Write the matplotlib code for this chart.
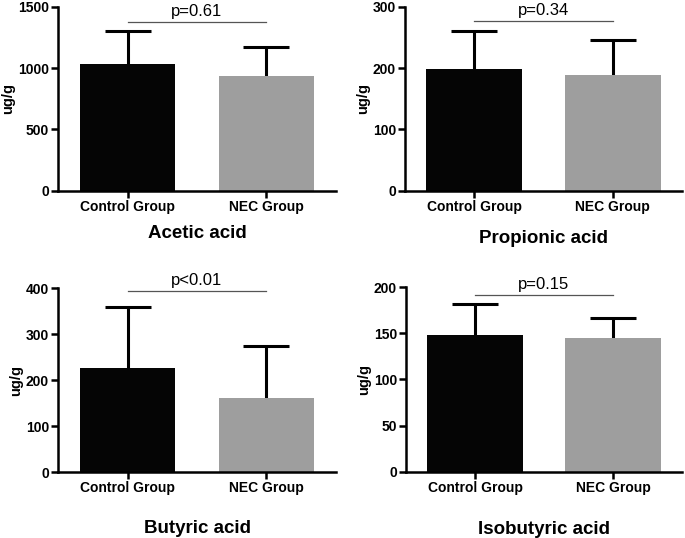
import matplotlib
matplotlib.use("Agg")
import matplotlib.pyplot as plt

plt.rcParams["font.family"] = ["Liberation Sans", "DejaVu Sans"]

groups = ["Control Group", "NEC Group"]

# means and SD (ug/g)
acetic_mean = [1030, 935]
acetic_sd = [272, 234]
propionic_mean = [198, 189]
propionic_sd = [63, 57]
butyric_mean = [227, 161]
butyric_sd = [132, 114]
isobutyric_mean = [148.5, 145]
isobutyric_sd = [33.5, 22]

panels = [
    ("Acetic acid", acetic_mean, acetic_sd, 1500, 500, "p=0.61", 1375),
    ("Propionic acid", propionic_mean, propionic_sd, 300, 100, "p=0.34", 277),
    ("Butyric acid", butyric_mean, butyric_sd, 400, 100, "p<0.01", 395),
    ("Isobutyric acid", isobutyric_mean, isobutyric_sd, 200, 50, "p=0.15", 191.5),
]

# axes rectangles in figure fraction
rects = [
    [0.0847, 0.6455, 0.4058, 0.342],
    [0.5912, 0.6455, 0.4044, 0.342],
    [0.0847, 0.1221, 0.4058, 0.342],
    [0.5927, 0.1232, 0.4029, 0.343],
]
title_pads = [8, 11.5, 17.5, 18.7]

fig = plt.figure(figsize=(6.85, 5.38), dpi=100)
colors = ["#050505", "#9e9e9e"]

for (name, mean, sd, ymax, step, ptxt, py), rect, tpad in zip(panels, rects, title_pads):
    ax = fig.add_axes(rect)
    x = [0, 1]
    ax.bar(x, mean, width=0.69, color=colors, zorder=2)
    # symmetric bars drawn behind the columns, so only the upper half shows
    ax.errorbar(x, mean, yerr=sd, fmt="none", ecolor="black",
                elinewidth=2.2, capsize=16.5, capthick=2.2, zorder=1)
    ax.plot(x, [py, py], color="#555555", lw=0.9, clip_on=False)
    ax.text(0.5, py + ymax * 0.015, ptxt, ha="center", va="bottom",
            fontsize=12, clip_on=False)
    ax.set_xlim(-0.5, 1.5)
    ax.set_ylim(0, ymax)
    ax.set_yticks(range(0, ymax + 1, step))
    ax.set_xticks(x)
    ax.set_xticklabels(groups, fontsize=10, fontweight="bold")
    for lab in ax.get_yticklabels():
        lab.set_fontweight("bold")
        lab.set_fontsize(10)
    ax.set_ylabel("ug/g", fontsize=10.5, fontweight="bold", labelpad=2)
    ax.set_xlabel(name, fontsize=13.5, fontweight="bold", labelpad=tpad)
    for s in ["top", "right"]:
        ax.spines[s].set_visible(False)
    for s in ["left", "bottom"]:
        ax.spines[s].set_linewidth(1.8)
    ax.tick_params(width=1.8, length=5, pad=1.5)

fig.savefig("out.png", dpi=100)
